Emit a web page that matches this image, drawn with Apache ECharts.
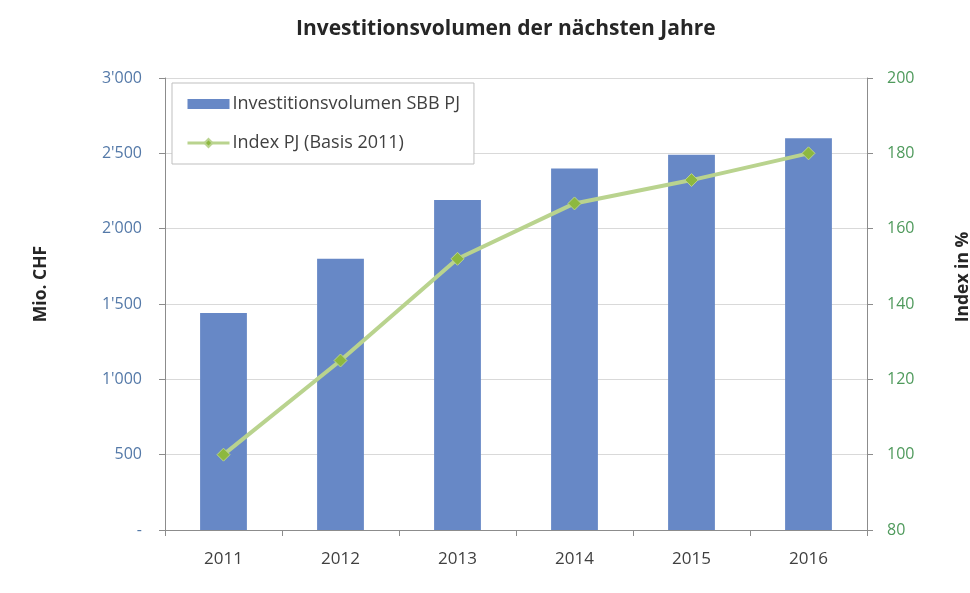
<!DOCTYPE html>
<html>
<head>
<meta charset="utf-8">
<script src="https://cdn.jsdelivr.net/npm/echarts@6/dist/echarts.min.js"></script>
<style>
  html, body { margin: 0; padding: 0; background: #fff; }
  #chart { width: 970px; height: 593px; }
</style>
</head>
<body>
<div id="chart"></div>
<script>
// Jahre und Werte
const years = ['2011', '2012', '2013', '2014', '2015', '2016'];
const investVolume = [1440, 1800, 2190, 2400, 2490, 2600];   // Mio. CHF
const indexValues = [100, 125, 152, 166.7, 172.9, 180];       // Index, Basis 2011 = 100

const titleText = 'Investitionsvolumen der nächsten Jahre';
const barName = 'Investitionsvolumen SBB PJ';
const lineName = 'Index PJ (Basis 2011)';

const FONT = 'Open Sans';

function chf(v) {
  if (v === 0) return '-';
  return String(v).replace(/\B(?=(\d{3})+(?!\d))/g, "'");
}

const chart = echarts.init(document.getElementById('chart'), null, { renderer: 'canvas' });

chart.setOption({
  backgroundColor: '#ffffff',
  animation: false,
  title: {
    text: titleText,
    left: 296,
    top: 19,
    padding: 0,
    textStyle: { fontFamily: FONT, fontSize: 21, fontWeight: 'bold', color: '#262626' }
  },
  legend: {
    left: 172,
    top: 83,
    orient: 'vertical',
    padding: [12, 14, 12, 14],
    itemGap: 21,
    itemWidth: 42,
    itemHeight: 10,
    borderColor: '#bfbfbf',
    borderWidth: 1,
    backgroundColor: '#ffffff',
    textStyle: { fontFamily: FONT, fontSize: 18, color: '#404040', padding: [0, 0, 0, -2] },
    data: [
      { name: barName, icon: 'rect' },
      { name: lineName, lineStyle: { width: 3 } }
    ]
  },
  grid: { left: 165, right: 103, top: 78, bottom: 63, containLabel: false, outerBoundsMode: 'none' },
  xAxis: {
    type: 'category',
    data: years,
    axisLine: { lineStyle: { color: '#8c8c8c', width: 1 } },
    axisTick: { show: true, alignWithLabel: false, length: 6, lineStyle: { color: '#8c8c8c' } },
    axisLabel: { fontFamily: FONT, fontSize: 17, color: '#404040', margin: 21 }
  },
  yAxis: [
    {
      type: 'value',
      min: 0, max: 3000, interval: 500,
      name: 'Mio. CHF',
      nameLocation: 'middle',
      nameRotate: 90,
      nameGap: 115,
      nameTextStyle: { fontFamily: FONT, fontSize: 17.5, fontWeight: 'bold', color: '#262626', padding: [0, 0, 0, 40] },
      axisLine: { show: true, lineStyle: { color: '#8c8c8c' } },
      axisTick: { show: true, length: 6, lineStyle: { color: '#8c8c8c' } },
      axisLabel: { fontFamily: FONT, fontSize: 16, color: '#5479a8', margin: 23, formatter: chf },
      splitLine: { show: true, lineStyle: { color: '#d9d9d9', width: 1 } }
    },
    {
      type: 'value',
      min: 80, max: 200, interval: 20,
      name: 'Index in %',
      nameLocation: 'middle',
      nameRotate: 90,
      nameGap: 87,
      nameTextStyle: { fontFamily: FONT, fontSize: 17.5, fontWeight: 'bold', color: '#262626', padding: [0, 0, 0, 54] },
      axisLine: { show: true, lineStyle: { color: '#8c8c8c' } },
      axisTick: { show: true, length: 6, lineStyle: { color: '#8c8c8c' } },
      axisLabel: { fontFamily: FONT, fontSize: 16, color: '#4f9a5c', margin: 20 },
      splitLine: { show: false }
    }
  ],
  series: [
    {
      name: barName,
      type: 'bar',
      data: investVolume,
      yAxisIndex: 0,
      barWidth: '40%',
      itemStyle: { color: '#6788c6' }
    },
    {
      name: lineName,
      type: 'line',
      data: indexValues,
      yAxisIndex: 1,
      symbol: 'diamond',
      symbolSize: 13,
      lineStyle: { color: '#b9d38e', width: 4 },
      itemStyle: { color: '#8db83f', borderColor: '#b9d38e', borderWidth: 1 },
      z: 3
    }
  ]
});
</script>
</body>
</html>
